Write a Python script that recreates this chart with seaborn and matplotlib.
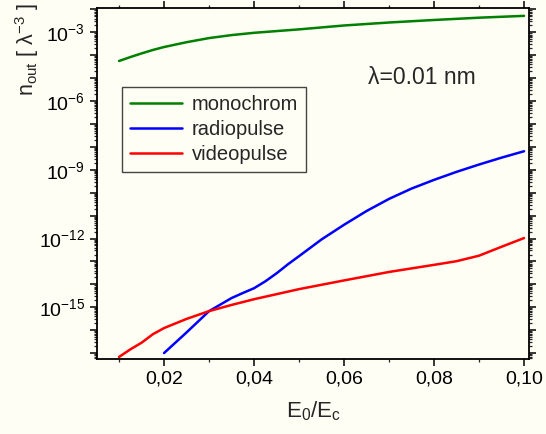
import numpy as np
import pandas as pd
import matplotlib
matplotlib.use("Agg")
import matplotlib.pyplot as plt
import seaborn as sns
from matplotlib.lines import Line2D
from matplotlib.ticker import LogLocator, FixedLocator, FixedFormatter, MultipleLocator, FuncFormatter, NullFormatter

# ---- data (values are log10 of n_out) ----
series_names = ["monochrom", "radiopulse", "videopulse"]
series_colors = ["#008000", "#0000FF", "#FF0000"]

x_mono = [0.010, 0.0125, 0.015, 0.0175, 0.020, 0.025, 0.030, 0.035, 0.040, 0.050, 0.060, 0.070, 0.080, 0.090, 0.100]
log_mono = [-4.25, -4.08, -3.92, -3.77, -3.64, -3.43, -3.25, -3.12, -3.02, -2.87, -2.70, -2.57, -2.46, -2.36, -2.28]

x_radio = [0.020, 0.025, 0.030, 0.035, 0.0375, 0.040, 0.0425, 0.045, 0.0475, 0.050, 0.055, 0.060, 0.065, 0.070, 0.075, 0.080, 0.085, 0.090, 0.095, 0.100]
log_radio = [-17.00, -16.10, -15.17, -14.60, -14.38, -14.17, -13.87, -13.52, -13.13, -12.77, -12.04, -11.40, -10.80, -10.27, -9.82, -9.44, -9.09, -8.77, -8.47, -8.19]

x_video = [0.010, 0.0125, 0.015, 0.0175, 0.020, 0.025, 0.030, 0.035, 0.040, 0.050, 0.060, 0.070, 0.080, 0.085, 0.090, 0.095, 0.100]
log_video = [-17.17, -16.84, -16.55, -16.18, -15.91, -15.51, -15.17, -14.90, -14.65, -14.21, -13.83, -13.46, -13.15, -12.99, -12.75, -12.36, -11.98]

x_ticks = [0.02, 0.04, 0.06, 0.08, 0.10]
x_tick_labels = ["0,02", "0,04", "0,06", "0,08", "0,10"]
y_label_exponents = [-3, -6, -9, -12, -15]

frames = []
for name, xs, ls in zip(series_names, [x_mono, x_radio, x_video], [log_mono, log_radio, log_video]):
    frames.append(pd.DataFrame({"x": xs, "n": np.power(10.0, ls), "series": name}))
df = pd.concat(frames, ignore_index=True)

# ---- style ----
bg = "#FEFEF4"
sns.set_theme(style="ticks")
plt.rcParams["font.family"] = ["Liberation Sans", "DejaVu Sans"]
plt.rcParams["mathtext.default"] = "regular"
plt.rcParams["figure.facecolor"] = bg
plt.rcParams["axes.facecolor"] = bg
plt.rcParams["savefig.facecolor"] = bg

fig = plt.figure(figsize=(5.46, 4.34), dpi=100)
ax = fig.add_axes([97/546, 1 - 359/434, (529-97)/546, (359-8.3)/434])

lw = 1.8
sns.lineplot(data=df, x="x", y="n", hue="series", hue_order=series_names,
             palette=series_colors, estimator=None, sort=False,
             linewidth=lw, ax=ax, legend=False)

ax.set_yscale("log")
ax.set_xlim(0.0051, 0.1011)
ax.set_ylim(10**-17.26, 10**-1.95)

# x ticks
ax.xaxis.set_major_locator(FixedLocator(x_ticks))
ax.xaxis.set_major_formatter(FixedFormatter(x_tick_labels))
ax.xaxis.set_minor_locator(MultipleLocator(0.01))

# y ticks
ax.yaxis.set_major_locator(LogLocator(base=10, numticks=40))
def yfmt(v, pos):
    e = int(round(np.log10(v)))
    if e in y_label_exponents:
        return r"$10^{%d}$" % e
    return ""
ax.yaxis.set_major_formatter(FuncFormatter(yfmt))
ax.yaxis.set_minor_locator(LogLocator(base=10, subs=np.arange(2, 10), numticks=40))
ax.yaxis.set_minor_formatter(NullFormatter())

for s in ax.spines.values():
    s.set_visible(True)
    s.set_linewidth(1.3)
    s.set_color("black")

ax.tick_params(axis="both", which="major", direction="out", length=5, width=1.1,
               labelsize=14, colors="black", top=True, right=True)
ax.tick_params(axis="both", which="minor", direction="out", length=2.5, width=0.9,
               top=True, right=True)
ax.tick_params(axis="x", which="both", top=True, labeltop=False)
ax.tick_params(axis="y", which="both", right=True, labelright=False)

ax.set_xlabel(r"E$_0$/E$_c$", fontsize=16, labelpad=8)
ax.set_ylabel("")
fig.text(27/546, 1 - 50/434, r"n$_{out}$ [ λ$^{-3}$ ]", rotation=90,
         fontsize=15.5, ha="center", va="center")

ax.text(0.627, 0.804, "λ=0.01 nm", transform=ax.transAxes, fontsize=16.5,
        ha="left", va="center")

handles = [Line2D([0], [0], color=c, lw=lw) for c in series_colors]
leg = ax.legend(handles, series_names, loc="upper left", bbox_to_anchor=(0.058, 0.776),
                borderaxespad=0, frameon=True, fancybox=False, fontsize=14.5,
                handlelength=2.6, handletextpad=0.45, labelspacing=0.3,
                borderpad=0.4)
leg.get_frame().set_edgecolor("#444444")
leg.get_frame().set_linewidth(1.0)
leg.get_frame().set_facecolor(bg)
leg.get_frame().set_alpha(1)

fig.savefig("out.png", dpi=100)
